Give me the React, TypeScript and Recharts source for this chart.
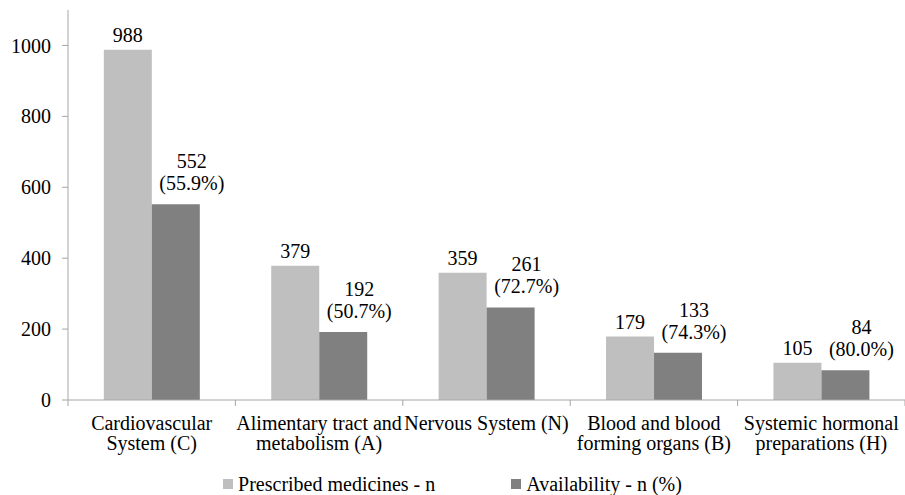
import React from "react";
import { Bar, BarChart, LabelList, Legend, XAxis, YAxis } from "recharts";

const categories = [
  "Cardiovascular\nSystem (C)",
  "Alimentary tract and\nmetabolism (A)",
  "Nervous System (N)",
  "Blood and blood\nforming organs (B)",
  "Systemic hormonal\npreparations (H)",
];
const prescribed = [988, 379, 359, 179, 105];
const availability = [552, 192, 261, 133, 84];
const availabilityPct = ["55.9%", "50.7%", "72.7%", "74.3%", "80.0%"];
const yTicks = [0, 200, 400, 600, 800, 1000];

const LIGHT = "#bfbfbf";
const DARK = "#808080";
const AXIS = "#a6a6a6";
const FONT = "Liberation Serif";
const FS = 20;

const donnees = categories.map((categorie, i) => ({
  categorie,
  prescribed: prescribed[i],
  availability: availability[i],
  availLabel: `${availability[i]}\n(${availabilityPct[i]})`,
}));

function CategoryTick(props: any) {
  const { x, y, payload, index } = props;
  const half = payload?.offset ?? 83.7;
  const lines = String(payload.value).split("\n");
  return (
    <g>
      <line x1={x - half} x2={x - half} y1={y} y2={y + 6} stroke={AXIS} />
      {index === categories.length - 1 && (
        <line x1={x + half} x2={x + half} y1={y} y2={y + 6} stroke={AXIS} />
      )}
      {lines.map((l, i) => (
        <text
          key={i}
          x={x}
          y={y + 30 + i * 20}
          textAnchor="middle"
          fontFamily={FONT}
          fontSize={FS}
          fill="#000"
        >
          {l}
        </text>
      ))}
    </g>
  );
}

function LightLabel(props: any) {
  const { x, y, width, value } = props;
  return (
    <text x={x + width / 2} y={y - 7.5} textAnchor="middle" fontFamily={FONT} fontSize={FS} fill="#000">
      {value}
    </text>
  );
}

function DarkLabel(props: any) {
  const { x, y, width, value } = props;
  const [a, b] = String(value).split("\n");
  const cx = x + width / 2 + 16;
  return (
    <g>
      <text x={cx} y={y - 36} textAnchor="middle" fontFamily={FONT} fontSize={FS} fill="#000">
        {a}
      </text>
      <text x={cx} y={y - 14} textAnchor="middle" fontFamily={FONT} fontSize={FS} fill="#000">
        {b}
      </text>
    </g>
  );
}

function LegendeContenu() {
  const items = [
    { nom: "Prescribed medicines - n", couleur: LIGHT },
    { nom: "Availability - n (%)", couleur: DARK },
  ];
  return (
    <div
      style={{
        height: 30,
        paddingTop: 7,
        boxSizing: "border-box",
        display: "flex",
        justifyContent: "center",
        fontFamily: FONT,
        fontSize: FS,
        lineHeight: "22px",
        color: "#000",
      }}
    >
      {items.map((it, i) => (
        <div key={it.nom} style={{ display: "flex", alignItems: "center", marginRight: i === 0 ? 76 : 0 }}>
          <span style={{ width: 10, height: 10, background: it.couleur, marginRight: 5, display: "inline-block" }} />
          <span>{it.nom}</span>
        </div>
      ))}
    </div>
  );
}

export default function App() {
  return (
    <div style={{ position: "absolute", left: 0, top: 0, width: 905, height: 495, background: "#fff" }}>
      <BarChart
        width={905}
        height={495}
        data={donnees}
        margin={{ top: 10, right: 0, left: 0, bottom: 0 }}
        barCategoryGap="21.4%"
        barGap={0}
      >
        <XAxis
          dataKey="categorie"
          interval={0}
          height={65}
          tickLine={false}
          tickSize={0}
          tickMargin={0}
          axisLine={{ stroke: AXIS }}
          tick={<CategoryTick />}
        />
        <YAxis
          width={68}
          domain={[0, 1100]}
          ticks={yTicks}
          tickSize={6}
          tickMargin={11}
          tickLine={{ stroke: AXIS }}
          axisLine={{ stroke: AXIS }}
          tick={{ fontFamily: FONT, fontSize: FS, fill: "#000" }}
        />
        <Legend verticalAlign="bottom" content={() => <LegendeContenu />} />
        <Bar dataKey="prescribed" fill={LIGHT} isAnimationActive={false}>
          <LabelList dataKey="prescribed" content={<LightLabel />} />
        </Bar>
        <Bar dataKey="availability" fill={DARK} isAnimationActive={false}>
          <LabelList dataKey="availLabel" content={<DarkLabel />} />
        </Bar>
      </BarChart>
    </div>
  );
}
